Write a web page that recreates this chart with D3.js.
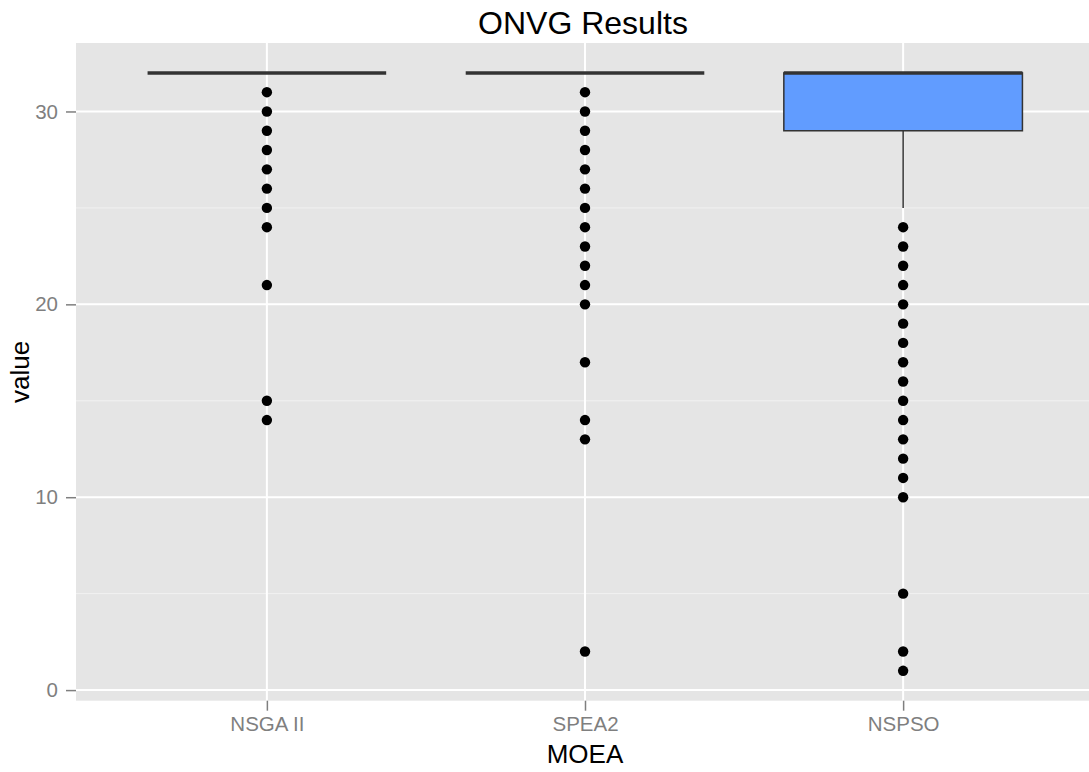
<!DOCTYPE html>
<html>
<head>
<meta charset="utf-8">
<script src="https://cdn.jsdelivr.net/npm/d3@7"></script>
<style>
body { margin: 0; background: #fff; }
text { font-family: "Liberation Sans", Arial, sans-serif; }
</style>
</head>
<body>
<script>
// datos del boxplot
var categorias = ["NSGA II", "SPEA2", "NSPSO"];
var q1 = [32, 32, 29];
var mediana = [32, 32, 32];
var q3 = [32, 32, 32];
var bigoteBajo = [32, 32, 25];
var bigoteAlto = [32, 32, 32];
var atipicos = [
    [31, 30, 29, 28, 27, 26, 25, 24, 21, 15, 14],
    [31, 30, 29, 28, 27, 26, 25, 24, 23, 22, 21, 20, 17, 14, 13, 2],
    [24, 23, 22, 21, 20, 19, 18, 17, 16, 15, 14, 13, 12, 11, 10, 5, 2, 1]
];
var rellenos = ["#ffffff", "#ffffff", "#619CFF"];
var ticksY = [0, 10, 20, 30];
var ticksMenores = [5, 15, 25];

function graficar() {
    var w = 1089;
    var h = 772;
    var izq = 76, der = 1094, arriba = 43, abajo = 700.7;

    var svg = d3.select("body")
        .append("svg")
        .attr("width", w)
        .attr("height", h);

    var x = d3.scalePoint()
        .domain(categorias)
        .range([izq, der])
        .padding(0.6);

    var y = d3.scaleLinear()
        .domain([-0.55, 33.55])
        .range([abajo, arriba]);

    var anchoCaja = x.step() * 0.75;

    // panel gris
    svg.append("rect")
        .attr("x", izq)
        .attr("y", arriba)
        .attr("width", der - izq)
        .attr("height", abajo - arriba)
        .attr("fill", "#e5e5e5");

    // rejilla menor
    svg.selectAll("line.menor")
        .data(ticksMenores)
        .enter()
        .append("line")
        .attr("x1", izq).attr("x2", der)
        .attr("y1", function(d) { return y(d); })
        .attr("y2", function(d) { return y(d); })
        .attr("stroke", "#f2f2f2")
        .attr("stroke-width", 1);

    // rejilla mayor
    svg.selectAll("line.mayorY")
        .data(ticksY)
        .enter()
        .append("line")
        .attr("x1", izq).attr("x2", der)
        .attr("y1", function(d) { return y(d); })
        .attr("y2", function(d) { return y(d); })
        .attr("stroke", "#ffffff")
        .attr("stroke-width", 2);

    svg.selectAll("line.mayorX")
        .data(categorias)
        .enter()
        .append("line")
        .attr("x1", function(d) { return x(d); })
        .attr("x2", function(d) { return x(d); })
        .attr("y1", arriba).attr("y2", abajo)
        .attr("stroke", "#ffffff")
        .attr("stroke-width", 2);

    // ejes
    var ejeY = d3.axisLeft(y).tickValues(ticksY).tickSize(10).tickPadding(8);
    var gy = svg.append("g").attr("transform", "translate(" + izq + ",0)").call(ejeY);
    var ejeX = d3.axisBottom(x).tickSize(10).tickPadding(6);
    var gx = svg.append("g").attr("transform", "translate(0," + abajo + ")").call(ejeX);
    [gy, gx].forEach(function(g) {
        g.select(".domain").remove();
        g.selectAll(".tick line").attr("stroke", "#7f7f7f").attr("stroke-width", 1.5);
        g.selectAll(".tick text")
            .attr("fill", "#7f7f7f")
            .style("font-size", "20.5px")
            .style("font-family", "Liberation Sans, Arial, sans-serif");
    });

    var cajas = svg.selectAll("g.caja")
        .data(categorias)
        .enter()
        .append("g");

    // bigotes
    cajas.append("line")
        .attr("x1", function(d) { return x(d); })
        .attr("x2", function(d) { return x(d); })
        .attr("y1", function(d, i) { return y(q1[i]); })
        .attr("y2", function(d, i) { return y(bigoteBajo[i]); })
        .attr("stroke", "#333333")
        .attr("stroke-width", 1.5);
    cajas.append("line")
        .attr("x1", function(d) { return x(d); })
        .attr("x2", function(d) { return x(d); })
        .attr("y1", function(d, i) { return y(q3[i]); })
        .attr("y2", function(d, i) { return y(bigoteAlto[i]); })
        .attr("stroke", "#333333")
        .attr("stroke-width", 1.5);

    // caja
    cajas.append("rect")
        .attr("x", function(d) { return x(d) - anchoCaja / 2; })
        .attr("width", anchoCaja)
        .attr("y", function(d, i) { return y(q3[i]); })
        .attr("height", function(d, i) { return y(q1[i]) - y(q3[i]); })
        .attr("fill", function(d, i) { return rellenos[i]; })
        .attr("stroke", "#333333")
        .attr("stroke-width", 1.5);

    // mediana
    cajas.append("line")
        .attr("x1", function(d) { return x(d) - anchoCaja / 2; })
        .attr("x2", function(d) { return x(d) + anchoCaja / 2; })
        .attr("y1", function(d, i) { return y(mediana[i]); })
        .attr("y2", function(d, i) { return y(mediana[i]); })
        .attr("stroke", "#333333")
        .attr("stroke-width", 3.5);

    // atipicos
    cajas.each(function(d, i) {
        d3.select(this).selectAll("circle")
            .data(atipicos[i])
            .enter()
            .append("circle")
            .attr("cx", x(d))
            .attr("cy", function(v) { return y(v); })
            .attr("r", 5.2)
            .attr("fill", "#000000");
    });

    // titulos
    svg.append("text")
        .text("ONVG Results")
        .attr("x", (izq + der) / 2 - 2)
        .attr("y", 34)
        .attr("text-anchor", "middle")
        .style("font-size", "32px");

    svg.append("text")
        .text("MOEA")
        .attr("x", (izq + der) / 2)
        .attr("y", 763)
        .attr("text-anchor", "middle")
        .style("font-size", "26px");

    svg.append("text")
        .text("value")
        .attr("transform", "translate(29," + (arriba + abajo) / 2 + ") rotate(-90)")
        .attr("text-anchor", "middle")
        .style("font-size", "26px");
}

graficar();
</script>
</body>
</html>
